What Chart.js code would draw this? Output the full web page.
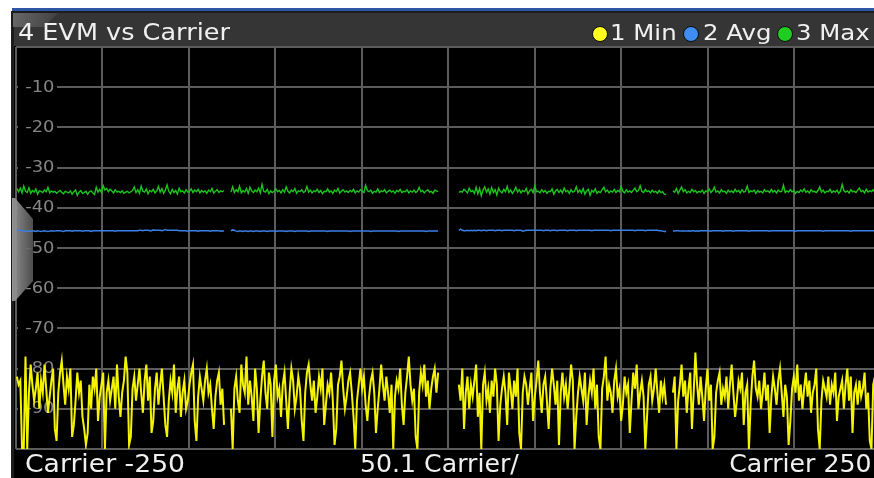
<!DOCTYPE html>
<html>
<head>
<meta charset="utf-8">
<script src="https://cdn.jsdelivr.net/npm/chart.js@4.4.1/dist/chart.umd.min.js"></script>
<style>
html, body { margin: 0; padding: 0; width: 874px; height: 478px; overflow: hidden; background: #fff; }
#evmChart { position: absolute; left: 0; top: 0; }
.txt { position: absolute; font-family: "DejaVu Sans", Verdana, sans-serif; color: #f0f0f0; white-space: nowrap; line-height: 1; }
.stretch { transform: scaleX(1.11); transform-origin: left top; }
.stretchS { transform: scaleX(1.05); transform-origin: left top; }
.stretchR { transform: scaleX(1.05); transform-origin: right top; }
.dot { position: absolute; width: 14px; height: 14px; border-radius: 50%; border: 1px solid #0c0c0c; top: 26px; }
</style>
</head>
<body>
<canvas id="evmChart" width="874" height="478"></canvas>

<div class="txt stretch" style="left:18px; top:21px; font-size:23px;">4 EVM vs Carrier</div>

<div class="dot" style="left:591.5px; background:#ffff1e;"></div>
<div class="txt stretch" style="left:610px; top:22px; font-size:22px;">1 Min</div>
<div class="dot" style="left:683px; background:#3f8cf2;"></div>
<div class="txt stretch" style="left:703px; top:22px; font-size:22px;">2 Avg</div>
<div class="dot" style="left:777px; background:#20cc20;"></div>
<div class="txt stretch" style="left:796px; top:22px; font-size:22px;">3 Max</div>

<div class="txt stretch" style="left:25px; top:452px; font-size:24px;">Carrier -250</div>
<div class="txt stretchS" style="left:360px; top:452px; font-size:24px;">50.1 Carrier/</div>
<div class="txt stretchR" style="right:2px; top:452px; font-size:24px;">Carrier 250</div>

<script>
// EVM vs Carrier (160 MHz, used carriers only)

const carrierRanges = [[-250, -130], [-126, -6], [6, 126], [130, 250]];
const xGridTicks = [-250.5, -200.4, -150.3, -100.2, -50.1, 0, 50.1, 100.2, 150.3, 200.4];
const yTickLabels = [-10, -20, -30, -40, -50, -60, -70, -80, -90];

// 1 Min (dB)
const minEvm = [
    -82,-84,-83,-100,-100,-77,-100,-86,-79,-84,
    -88,-85,-81,-90,-83,-86,-79,-85,-91,-87,
    -83,-80,-95,-98,-86,-81,-78,-84,-89,-82,
    -85,-80,-97,-94,-88,-81,-86,-83,-92,-95,
    -99,-96,-84,-90,-82,-85,-80,-93,-87,-84,
    -81,-100,-86,-83,-88,-85,-82,-90,-79,-87,
    -92,-86,-83,-77,-81,-99,-97,-85,-82,-88,
    -84,-80,-86,-91,-83,-79,-88,-82,-96,-93,
    -85,-81,-89,-84,-80,-87,-94,-97,-88,-83,
    -86,-79,-91,-85,-82,-92,-86,-83,-90,-88,
    -84,-81,-79,-93,-98,-87,-82,-85,-88,-83,
    -80,-86,-84,-90,-95,-87,-83,-81,-89,-85,
    -94,
    -90,-100,-85,-82,-88,-91,-79,-84,-86,-77,
    -89,-83,-87,-93,-80,-85,-96,-88,-82,-78,
    -86,-90,-81,-84,-97,-83,-79,-87,-85,-92,
    -84,-81,-88,-95,-86,-80,-83,-90,-87,-82,
    -85,-93,-98,-86,-81,-79,-84,-88,-83,-91,
    -87,-82,-85,-80,-94,-89,-84,-86,-81,-88,
    -99,-95,-84,-82,-78,-85,-90,-87,-83,-81,
    -86,-92,-100,-88,-84,-80,-85,-82,-89,-93,
    -87,-83,-81,-86,-96,-90,-85,-79,-84,-88,
    -82,-86,-91,-84,-100,-87,-83,-85,-80,-89,
    -94,-86,-82,-77,-84,-88,-85,-97,-100,-86,
    -81,-84,-79,-87,-83,-90,-85,-82,-80,-86,
    -81,
    -84,-88,-80,-95,-86,-82,-90,-84,-87,-83,
    -79,-92,-86,-100,-84,-81,-88,-85,-91,-83,
    -87,-80,-84,-98,-89,-85,-82,-86,-94,-81,
    -85,-90,-83,-87,-80,-96,-100,-86,-82,-84,
    -89,-85,-81,-93,-87,-83,-78,-86,-91,-84,
    -82,-88,-95,-85,-80,-84,-89,-83,-99,-86,
    -81,-87,-84,-90,-85,-79,-83,-100,-92,-86,
    -82,-85,-88,-81,-94,-87,-83,-86,-80,-90,
    -84,-97,-100,-85,-82,-77,-88,-84,-86,-91,
    -83,-80,-87,-85,-93,-89,-82,-86,-84,-96,
    -88,-81,-85,-79,-90,-86,-83,-87,-100,-92,
    -84,-82,-88,-85,-80,-86,-91,-83,-87,-84,
    -89,
    -86,-82,-100,-88,-84,-79,-87,-83,-91,-85,
    -81,-95,-86,-76,-84,-89,-82,-87,-93,-85,
    -80,-88,-84,-100,-97,-86,-83,-81,-89,-85,
    -87,-82,-90,-84,-79,-86,-92,-88,-83,-85,
    -81,-94,-86,-84,-100,-89,-82,-78,-85,-87,
    -83,-90,-86,-81,-88,-84,-96,-87,-82,-85,
    -89,-83,-80,-86,-92,-84,-87,-99,-93,-85,
    -82,-86,-79,-88,-84,-90,-85,-81,-87,-83,
    -91,-86,-84,-80,-95,-100,-88,-83,-85,-87,
    -82,-89,-84,-86,-81,-93,-87,-85,-83,-90,
    -84,-80,-88,-82,-96,-86,-84,-89,-83,-87,
    -85,-81,-90,-86,-98,-100,-84,-82,-88,-85,
    -83
];

// 2 Avg (dB)
const avgEvm = [
    -45.6,-45.6,-45.6,-45.7,-45.8,-45.9,-45.8,-45.7,-45.9,-45.8,
    -45.8,-45.9,-45.7,-45.8,-45.9,-45.8,-45.7,-45.8,-45.9,-45.8,
    -45.7,-45.8,-45.8,-45.7,-45.7,-45.7,-45.8,-45.9,-45.7,-45.7,
    -45.7,-45.7,-45.8,-45.7,-45.7,-45.7,-45.7,-45.7,-45.8,-45.7,
    -45.7,-45.7,-45.7,-45.9,-45.7,-45.7,-45.7,-45.7,-45.7,-45.7,
    -45.7,-45.7,-45.7,-45.7,-45.7,-45.7,-45.7,-45.8,-45.7,-45.7,
    -45.7,-45.7,-45.7,-45.7,-45.7,-45.7,-45.7,-45.7,-45.7,-45.7,
    -45.7,-45.6,-45.6,-45.7,-45.6,-45.6,-45.6,-45.7,-45.7,-45.5,
    -45.6,-45.6,-45.6,-45.6,-45.7,-45.6,-45.4,-45.6,-45.6,-45.6,
    -45.6,-45.6,-45.6,-45.6,-45.7,-45.7,-45.7,-45.7,-45.7,-45.8,
    -45.7,-45.7,-45.7,-45.7,-45.7,-45.8,-45.7,-45.7,-45.7,-45.7,
    -45.7,-45.7,-45.8,-45.7,-45.7,-45.7,-45.7,-45.7,-45.8,-45.7,
    -45.8,
    -45.7,-45.5,-45.6,-45.8,-45.9,-45.8,-45.8,-45.9,-45.8,-45.8,
    -45.9,-45.8,-45.8,-45.9,-45.8,-45.8,-45.8,-45.9,-45.8,-45.8,
    -45.8,-45.9,-45.8,-45.8,-45.8,-45.8,-45.9,-45.8,-45.8,-45.8,
    -45.8,-45.8,-45.9,-45.8,-45.8,-45.8,-45.8,-45.9,-45.8,-45.8,
    -45.8,-45.8,-45.8,-45.8,-45.8,-45.9,-45.8,-45.8,-45.8,-45.8,
    -45.8,-45.8,-45.8,-45.8,-45.8,-45.8,-45.9,-45.8,-45.8,-45.8,
    -45.8,-45.8,-45.8,-45.8,-45.8,-45.8,-45.8,-45.8,-45.8,-45.9,
    -45.8,-45.8,-45.8,-45.8,-45.8,-45.8,-45.8,-45.8,-45.8,-45.8,
    -45.8,-45.9,-45.8,-45.8,-45.8,-45.8,-45.8,-45.8,-45.8,-45.8,
    -45.8,-45.8,-45.8,-45.8,-45.8,-45.8,-45.8,-45.9,-45.8,-45.8,
    -45.8,-45.8,-45.8,-45.8,-45.8,-45.8,-45.8,-45.8,-45.8,-45.8,
    -45.8,-45.8,-45.8,-45.9,-45.8,-45.8,-45.8,-45.8,-45.8,-45.8,
    -45.8,
    -45.6,-45.3,-45.6,-45.7,-45.7,-45.6,-45.7,-45.6,-45.7,-45.6,
    -45.7,-45.6,-45.6,-45.7,-45.6,-45.6,-45.7,-45.6,-45.6,-45.6,
    -45.6,-45.7,-45.6,-45.6,-45.6,-45.7,-45.6,-45.6,-45.6,-45.6,
    -45.6,-45.6,-45.7,-45.6,-45.6,-45.6,-45.6,-45.8,-45.7,-45.6,
    -45.6,-45.6,-45.6,-45.6,-45.6,-45.6,-45.6,-45.6,-45.6,-45.7,
    -45.6,-45.6,-45.6,-45.7,-45.6,-45.6,-45.6,-45.7,-45.6,-45.6,
    -45.6,-45.6,-45.6,-45.7,-45.6,-45.6,-45.6,-45.6,-45.7,-45.6,
    -45.6,-45.6,-45.6,-45.6,-45.6,-45.6,-45.6,-45.7,-45.6,-45.6,
    -45.6,-45.6,-45.6,-45.6,-45.6,-45.6,-45.6,-45.6,-45.7,-45.6,
    -45.6,-45.6,-45.6,-45.6,-45.6,-45.6,-45.6,-45.6,-45.6,-45.6,
    -45.6,-45.6,-45.7,-45.6,-45.6,-45.6,-45.6,-45.6,-45.7,-45.6,
    -45.6,-45.6,-45.6,-45.6,-45.6,-45.6,-45.7,-45.7,-45.8,-45.9,
    -45.9,
    -45.8,-45.8,-45.7,-45.7,-45.8,-45.8,-45.7,-45.8,-45.8,-45.7,
    -45.8,-45.7,-45.7,-45.8,-45.7,-45.8,-45.7,-45.7,-45.7,-45.7,
    -45.7,-45.7,-45.8,-45.7,-45.7,-45.7,-45.7,-45.7,-45.7,-45.8,
    -45.7,-45.7,-45.7,-45.7,-45.7,-45.8,-45.7,-45.7,-45.7,-45.7,
    -45.7,-45.7,-45.7,-45.7,-45.8,-45.7,-45.7,-45.7,-45.7,-45.7,
    -45.7,-45.7,-45.7,-45.7,-45.7,-45.7,-45.8,-45.7,-45.7,-45.7,
    -45.7,-45.7,-45.7,-45.7,-45.7,-45.7,-45.7,-45.7,-45.7,-45.7,
    -45.7,-45.8,-45.7,-45.7,-45.7,-45.7,-45.7,-45.7,-45.7,-45.7,
    -45.7,-45.7,-45.7,-45.7,-45.7,-45.7,-45.7,-45.8,-45.7,-45.7,
    -45.7,-45.7,-45.7,-45.7,-45.7,-45.7,-45.7,-45.7,-45.7,-45.7,
    -45.7,-45.7,-45.7,-45.8,-45.7,-45.7,-45.7,-45.7,-45.7,-45.7,
    -45.7,-45.7,-45.7,-45.7,-45.7,-45.7,-45.7,-45.7,-45.7,-45.7,
    -45.7
];

// 3 Max (dB)
const maxEvm = [
    -35.2,-36.0,-35.1,-36.3,-34.6,-35.9,-36.2,-35.0,-36.4,-35.7,
    -36.1,-35.3,-36.6,-35.8,-35.9,-36.2,-35.6,-36.0,-34.9,-36.3,
    -35.8,-36.1,-35.9,-36.4,-36.0,-35.7,-36.2,-36.5,-35.9,-36.1,
    -36.3,-35.8,-36.6,-36.0,-35.6,-36.9,-36.1,-35.7,-36.4,-36.2,
    -35.9,-36.6,-36.0,-35.8,-36.3,-36.7,-34.9,-36.1,-35.4,-36.2,
    -34.5,-35.6,-35.2,-36.0,-35.4,-35.8,-36.3,-35.5,-36.1,-35.9,
    -36.2,-35.8,-36.4,-36.1,-35.9,-36.3,-36.0,-35.7,-34.8,-36.2,
    -35.5,-36.4,-34.6,-35.9,-36.1,-35.3,-36.5,-35.7,-36.0,-35.4,
    -36.3,-35.8,-34.7,-36.1,-35.2,-36.4,-35.6,-34.3,-35.9,-36.5,
    -35.4,-36.2,-35.7,-36.6,-35.1,-36.0,-35.8,-36.3,-35.5,-36.1,
    -35.9,-35.3,-36.2,-35.6,-36.0,-35.4,-36.3,-35.7,-36.1,-35.8,
    -36.4,-35.6,-36.0,-35.2,-36.3,-35.9,-35.5,-36.2,-35.8,-36.0,
    -35.7,
    -36.1,-34.8,-36.2,-35.5,-36.0,-34.6,-36.3,-35.7,-36.1,-35.2,
    -36.4,-34.9,-35.8,-36.2,-35.6,-36.0,-35.1,-36.3,-34.2,-35.9,
    -36.1,-35.4,-36.5,-35.8,-36.2,-35.9,-35.3,-36.0,-35.7,-36.3,
    -35.5,-36.1,-34.8,-35.9,-36.3,-35.6,-36.0,-35.2,-36.4,-35.8,
    -36.0,-35.5,-36.2,-35.9,-34.7,-36.1,-35.6,-36.3,-35.8,-36.0,
    -35.4,-36.2,-35.7,-36.5,-35.9,-36.0,-35.3,-36.1,-35.8,-36.4,
    -35.6,-36.0,-35.2,-36.3,-35.9,-35.5,-36.1,-35.8,-36.2,-35.7,
    -36.0,-35.4,-36.3,-35.8,-36.1,-35.5,-35.9,-36.2,-34.4,-35.7,
    -36.0,-35.6,-36.4,-35.9,-36.1,-35.3,-36.2,-35.8,-36.0,-35.5,
    -36.3,-35.9,-35.6,-36.1,-35.8,-36.4,-35.7,-36.0,-35.4,-36.2,
    -35.9,-36.0,-35.5,-36.3,-35.8,-36.1,-35.6,-36.2,-35.9,-34.9,
    -36.0,-35.7,-36.3,-35.8,-35.5,-36.1,-35.9,-36.4,-35.6,-35.8,
    -36.0,
    -36.2,-35.9,-36.1,-35.4,-35.8,-36.3,-35.1,-36.0,-35.7,-36.4,
    -34.9,-36.5,-35.2,-37.0,-35.6,-34.8,-36.1,-35.3,-36.6,-35.0,
    -36.2,-35.5,-36.8,-35.1,-35.9,-36.3,-35.4,-36.0,-34.7,-36.2,
    -35.6,-36.4,-35.8,-34.9,-36.1,-35.5,-36.3,-35.7,-36.0,-35.2,
    -36.5,-35.8,-35.4,-36.2,-34.6,-36.0,-35.9,-36.3,-35.5,-36.1,
    -35.7,-36.4,-35.9,-36.0,-35.3,-36.6,-35.8,-35.4,-36.2,-35.6,
    -36.3,-35.1,-36.0,-35.7,-36.4,-35.5,-36.1,-35.9,-34.8,-36.2,
    -35.6,-36.3,-35.2,-36.6,-35.8,-35.4,-36.9,-35.7,-36.1,-35.3,
    -36.4,-35.9,-36.2,-35.5,-34.9,-36.0,-35.6,-36.3,-35.8,-36.1,
    -35.4,-36.2,-35.7,-36.0,-34.7,-35.9,-36.3,-35.5,-36.1,-35.8,
    -36.2,-35.6,-35.1,-36.0,-35.7,-34.5,-35.9,-36.2,-35.4,-36.0,
    -35.8,-36.3,-35.6,-36.1,-35.9,-36.4,-35.7,-36.2,-36.0,-36.6,
    -36.7,
    -35.8,-36.1,-35.2,-36.4,-35.6,-34.8,-36.0,-35.5,-36.3,-35.9,
    -36.2,-35.4,-36.0,-35.7,-36.3,-35.9,-36.1,-35.6,-36.4,-35.8,
    -36.0,-35.3,-36.2,-35.7,-34.9,-36.1,-35.8,-36.3,-35.5,-36.0,
    -35.9,-36.4,-35.6,-36.1,-35.8,-36.2,-35.4,-36.0,-35.7,-36.3,
    -35.5,-36.1,-35.9,-34.6,-36.2,-35.8,-36.0,-35.6,-36.4,-35.7,
    -36.1,-35.9,-36.3,-35.5,-36.0,-35.8,-36.2,-35.4,-36.1,-35.7,
    -36.3,-35.6,-36.0,-35.9,-34.4,-36.2,-35.8,-36.1,-35.5,-36.0,
    -35.7,-36.4,-35.9,-36.2,-35.6,-36.0,-35.3,-36.1,-35.8,-36.3,
    -35.5,-36.0,-35.9,-36.2,-35.7,-34.8,-36.1,-35.6,-36.3,-35.9,
    -36.0,-35.4,-36.2,-35.8,-36.1,-35.6,-36.4,-35.9,-34.2,-35.7,
    -36.1,-35.8,-36.3,-35.5,-36.0,-35.9,-36.2,-35.6,-35.1,-36.0,
    -35.7,-36.3,-35.4,-36.1,-35.8,-36.0,-35.5,-36.2,-34.9,-35.8,
    -36.1
];

// Build points, with a break between carrier blocks
function toPoints(values) {
    const pts = [];
    let k = 0;
    carrierRanges.forEach(([first, last], i) => {
        if (i > 0) pts.push({ x: first - 2, y: null });
        for (let c = first; c <= last; c++) {
            pts.push({ x: c, y: values[k++] });
        }
    });
    return pts;
}

// Instrument frame, y labels and side tab
const framePlugin = {
    id: "frame",
    beforeDraw(chart) {
        const ctx = chart.ctx;
        ctx.save();
        ctx.fillStyle = "#ffffff";
        ctx.fillRect(0, 0, 874, 478);
        ctx.fillStyle = "#2f56a4";
        ctx.fillRect(12, 8, 862, 3);
        ctx.fillStyle = "#1c1c1c";
        ctx.fillRect(11, 11, 863, 467);
        ctx.fillStyle = "#353535";
        ctx.fillRect(14, 13, 860, 33);
        // small tab behind the window number
        const g = ctx.createLinearGradient(12, 12, 60, 28);
        g.addColorStop(0, "#6a6a6a");
        g.addColorStop(1, "#3c3c3c");
        ctx.fillStyle = g;
        ctx.beginPath();
        ctx.moveTo(13, 13);
        ctx.lineTo(58, 13);
        ctx.lineTo(44, 27);
        ctx.lineTo(13, 27);
        ctx.closePath();
        ctx.fill();
        ctx.fillStyle = "#000000";
        ctx.fillRect(14, 46, 860, 432);
        ctx.restore();
    },
    beforeDatasetsDraw(chart) {
        const ctx = chart.ctx;
        const y = chart.scales.y;
        ctx.save();
        ctx.font = "16px 'DejaVu Sans', Verdana, sans-serif";
        ctx.textAlign = "right";
        ctx.textBaseline = "middle";
        yTickLabels.forEach((v) => {
            const py = y.getPixelForValue(v);
            ctx.fillStyle = "#000000";
            ctx.fillRect(18, py - 9, 39, 18);
            ctx.fillStyle = "#858585";
            ctx.save();
            ctx.translate(54.5, py + 0.5);
            ctx.scale(1.12, 1);
            ctx.fillText(String(v), 0, 0);
            ctx.restore();
        });
        // side tab
        const g = ctx.createLinearGradient(12, 0, 33, 0);
        g.addColorStop(0, "#a0a0a0");
        g.addColorStop(1, "#555555");
        ctx.fillStyle = g;
        ctx.globalAlpha = 0.9;
        ctx.beginPath();
        ctx.moveTo(12, 198);
        ctx.lineTo(15, 198);
        ctx.lineTo(33, 219);
        ctx.lineTo(33, 281);
        ctx.lineTo(15, 301);
        ctx.lineTo(12, 301);
        ctx.closePath();
        ctx.fill();
        ctx.restore();
    },
};

const evmChart = new Chart(document.getElementById("evmChart"), {
    type: "line",
    data: {
        datasets: [
            {
                label: "1 Min",
                data: toPoints(minEvm),
                borderColor: "#f4f400",
                borderWidth: 2,
                pointRadius: 0,
                spanGaps: false,
            },
            {
                label: "2 Avg",
                data: toPoints(avgEvm),
                borderColor: "#3a7fe6",
                borderWidth: 1.5,
                pointRadius: 0,
                spanGaps: false,
            },
            {
                label: "3 Max",
                data: toPoints(maxEvm),
                borderColor: "#1ec41e",
                borderWidth: 1.4,
                pointRadius: 0,
                spanGaps: false,
            },
        ],
    },
    options: {
        responsive: false,
        animation: false,
        layout: { padding: { left: 16, top: 47, right: 0, bottom: 29 } },
        plugins: {
            legend: { display: false },
            tooltip: { enabled: false },
        },
        scales: {
            x: {
                type: "linear",
                min: -250.5,
                max: 246.45,
                afterBuildTicks: (axis) => {
                    axis.ticks = xGridTicks.map((v) => ({ value: v }));
                },
                ticks: { display: false },
                grid: { color: "#5c5c5c", lineWidth: 2, drawTicks: false },
                border: { display: false },
            },
            y: {
                min: -100,
                max: 0,
                ticks: { display: false, stepSize: 10 },
                grid: { color: "#5c5c5c", lineWidth: 2, drawTicks: false },
                border: { display: false },
            },
        },
    },
    plugins: [framePlugin],
});
</script>
</body>
</html>
